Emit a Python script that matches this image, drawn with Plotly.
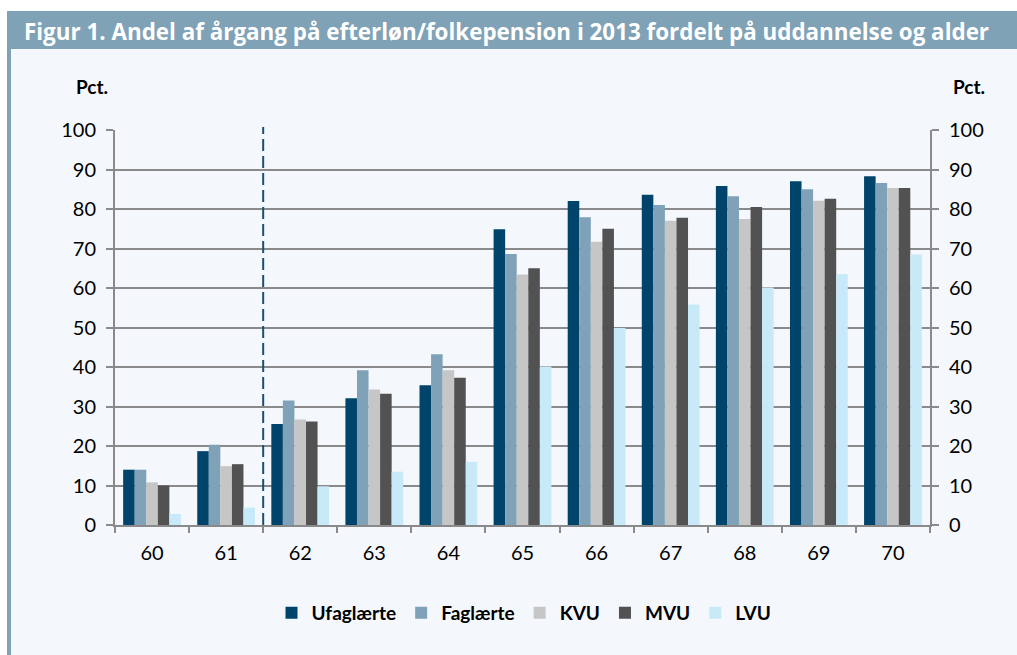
import plotly.graph_objects as go

ages = ["60", "61", "62", "63", "64", "65", "66", "67", "68", "69", "70"]
ufaglaerte = [14.0, 18.7, 25.6, 32.1, 35.4, 74.9, 82.0, 83.6, 85.8, 87.0, 88.3]
faglaerte = [14.0, 20.3, 31.5, 39.2, 43.2, 68.6, 77.9, 81.0, 83.2, 85.0, 86.6]
kvu = [10.8, 14.9, 26.7, 34.3, 39.2, 63.4, 71.7, 77.0, 77.5, 82.1, 85.3]
mvu = [10.0, 15.4, 26.2, 33.2, 37.3, 65.0, 75.0, 77.8, 80.5, 82.6, 85.3]
lvu = [2.8, 4.4, 9.8, 13.5, 16.0, 40.1, 49.9, 55.8, 60.1, 63.5, 68.5]

series = [
    ("Ufaglærte", ufaglaerte, "#00446b"),
    ("Faglærte", faglaerte, "#7fa2b8"),
    ("KVU", kvu, "#c6c6c6"),
    ("MVU", mvu, "#525252"),
    ("LVU", lvu, "#c8e9f8"),
]

title_text = "Figur 1. Andel af årgang på efterløn/folkepension i 2013 fordelt på uddannelse og alder"

W, H = 1017, 655
L, R, T, B = 115, 930, 130, 525  # plot area pixels
pw, ph = R - L, B - T

def px(x):
    return (x - L) / pw

def py(y):
    return (B - y) / ph

PANEL = "#f4f8fc"
BAR = "#7fa2b7"
GRID = "#8a8a8a"
FONT = "Lato"

fig = go.Figure()
for name, vals, col in series:
    fig.add_trace(go.Bar(x=ages, y=vals, name=name, marker=dict(color=col, line=dict(width=0))))

fig.add_trace(go.Scatter(x=ages, y=[None] * len(ages), yaxis="y2", showlegend=False,
                         hoverinfo="skip", mode="lines"))

shapes = [
    dict(type="rect", xref="paper", yref="paper", x0=px(0), x1=px(W), y0=py(11), y1=py(-5),
         fillcolor="white", line=dict(width=0), layer="below"),
    dict(type="rect", xref="paper", yref="paper", x0=px(-5), x1=px(7), y0=py(H + 5), y1=py(-5),
         fillcolor="white", line=dict(width=0), layer="below"),
    dict(type="rect", xref="paper", yref="paper", x0=px(7), x1=px(W + 5), y0=py(49), y1=py(11),
         fillcolor=BAR, line=dict(width=0), layer="below"),
    dict(type="rect", xref="paper", yref="paper", x0=px(7), x1=px(11), y0=py(H + 5), y1=py(49),
         fillcolor=BAR, line=dict(width=0), layer="below"),
    dict(type="line", xref="x", yref="paper", x0=1.5, x1=1.5, y0=0, y1=py(127),
         line=dict(color="#1d4f73", width=2, dash="12px,5px")),
]

annotations = [
    dict(text="<b>" + title_text + "</b>", xref="paper", yref="paper", x=px(22), y=py(31),
         xanchor="left", yanchor="middle", showarrow=False,
         font=dict(family="Open Sans", size=22.4, color="white")),
    dict(text="<b>Pct.</b>", xref="paper", yref="paper", x=px(92), y=py(86),
         xanchor="center", yanchor="middle", showarrow=False,
         font=dict(family=FONT, size=19, color="black")),
    dict(text="<b>Pct.</b>", xref="paper", yref="paper", x=px(969), y=py(86),
         xanchor="center", yanchor="middle", showarrow=False,
         font=dict(family=FONT, size=19, color="black")),
]

axis_common = dict(range=[0, 100], dtick=10, tick0=0, showline=True, linecolor=GRID, linewidth=2,
                   ticks="outside", ticklen=7, tickwidth=2, tickcolor=GRID,
                   tickfont=dict(family=FONT, size=20, color="black"), zeroline=False,
                   fixedrange=True)

fig.update_layout(
    width=W, height=H,
    margin=dict(l=L, r=W - R, t=T, b=H - B, pad=0),
    paper_bgcolor=PANEL, plot_bgcolor=PANEL,
    barmode="group", bargap=0.22, bargroupgap=0,
    shapes=shapes, annotations=annotations,
    xaxis=dict(type="category", showline=True, linecolor=GRID, linewidth=2,
               ticks="outside", tickson="boundaries", ticklen=6, tickwidth=2, tickcolor=GRID,
               tickfont=dict(family=FONT, size=20, color="black"), showgrid=False,
               ticklabelstandoff=9, fixedrange=True),
    yaxis=dict(**axis_common, showgrid=True, gridcolor=GRID, gridwidth=2, ticklabelstandoff=6),
    yaxis2=dict(**axis_common, overlaying="y", side="right", showgrid=False, ticklabelstandoff=6),
    legend=dict(orientation="h", x=px(524), y=py(613), xanchor="center", yanchor="middle",
                font=dict(family=FONT, size=19, color="black", weight="bold"),
                bgcolor="rgba(0,0,0,0)", itemwidth=30, traceorder="normal"),
    showlegend=True,
)

fig.write_html("out.html", config={"displayModeBar": False},
               post_script="document.body.style.margin='0';document.body.style.overflow='hidden';")
